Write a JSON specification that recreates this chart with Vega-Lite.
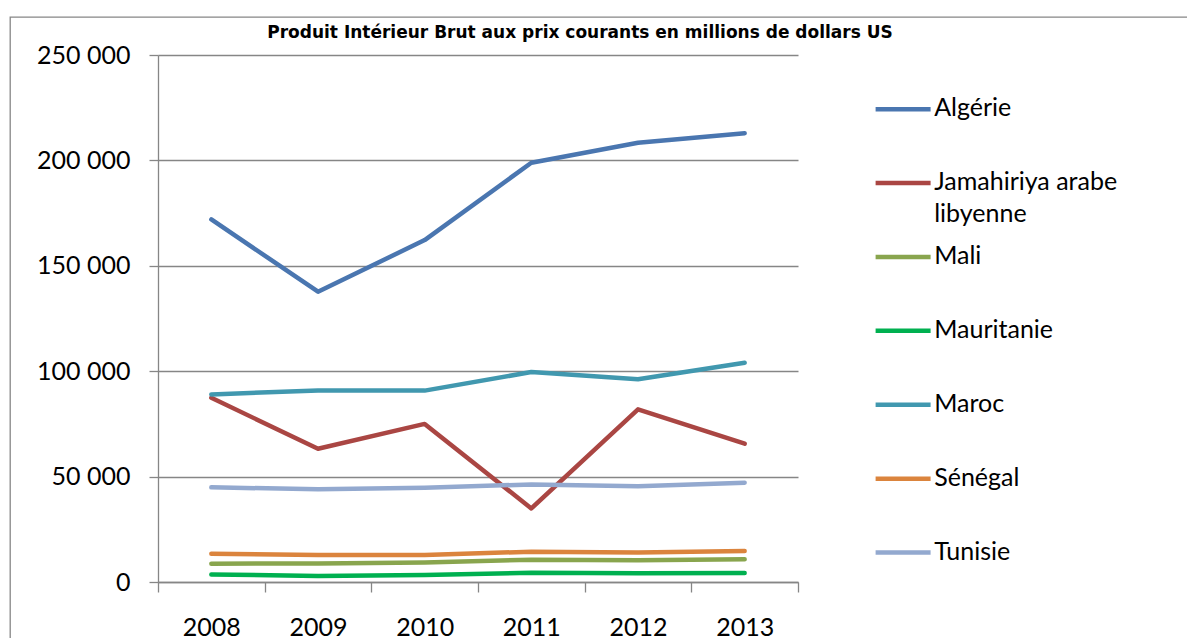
{
  "$schema": "https://vega.github.io/schema/vega-lite/v6.json",
  "width": 1200,
  "height": 640,
  "autosize": {"type": "none"},
  "padding": {"left": 10, "top": 17, "right": 0, "bottom": 0},
  "background": "white",
  "title": {
    "text": "Produit Intérieur Brut aux prix courants en millions de dollars US",
    "font": "DejaVu Sans",
    "fontSize": 17,
    "fontWeight": "bold",
    "color": "#000000",
    "frame": "group",
    "anchor": "middle",
    "dx": -30,
    "offset": -25
  },
  "data": {
    "values": [
      {"pays": "Algérie", "annee": "2008", "pib": 172000},
      {"pays": "Algérie", "annee": "2009", "pib": 137700},
      {"pays": "Algérie", "annee": "2010", "pib": 162200},
      {"pays": "Algérie", "annee": "2011", "pib": 198900},
      {"pays": "Algérie", "annee": "2012", "pib": 208400},
      {"pays": "Algérie", "annee": "2013", "pib": 212900},
      {"pays": "Jamahiriya arabe libyenne", "annee": "2008", "pib": 87400},
      {"pays": "Jamahiriya arabe libyenne", "annee": "2009", "pib": 63200},
      {"pays": "Jamahiriya arabe libyenne", "annee": "2010", "pib": 75000},
      {"pays": "Jamahiriya arabe libyenne", "annee": "2011", "pib": 34900},
      {"pays": "Jamahiriya arabe libyenne", "annee": "2012", "pib": 81900},
      {"pays": "Jamahiriya arabe libyenne", "annee": "2013", "pib": 65600},
      {"pays": "Mali", "annee": "2008", "pib": 8700},
      {"pays": "Mali", "annee": "2009", "pib": 8800},
      {"pays": "Mali", "annee": "2010", "pib": 9200},
      {"pays": "Mali", "annee": "2011", "pib": 10600},
      {"pays": "Mali", "annee": "2012", "pib": 10300},
      {"pays": "Mali", "annee": "2013", "pib": 10800},
      {"pays": "Mauritanie", "annee": "2008", "pib": 3600},
      {"pays": "Mauritanie", "annee": "2009", "pib": 2900},
      {"pays": "Mauritanie", "annee": "2010", "pib": 3300},
      {"pays": "Mauritanie", "annee": "2011", "pib": 4400},
      {"pays": "Mauritanie", "annee": "2012", "pib": 4100},
      {"pays": "Mauritanie", "annee": "2013", "pib": 4250},
      {"pays": "Maroc", "annee": "2008", "pib": 89000},
      {"pays": "Maroc", "annee": "2009", "pib": 90800},
      {"pays": "Maroc", "annee": "2010", "pib": 90800},
      {"pays": "Maroc", "annee": "2011", "pib": 99600},
      {"pays": "Maroc", "annee": "2012", "pib": 96200},
      {"pays": "Maroc", "annee": "2013", "pib": 104000},
      {"pays": "Sénégal", "annee": "2008", "pib": 13400},
      {"pays": "Sénégal", "annee": "2009", "pib": 12800},
      {"pays": "Sénégal", "annee": "2010", "pib": 12800},
      {"pays": "Sénégal", "annee": "2011", "pib": 14400},
      {"pays": "Sénégal", "annee": "2012", "pib": 14000},
      {"pays": "Sénégal", "annee": "2013", "pib": 14700},
      {"pays": "Tunisie", "annee": "2008", "pib": 44900},
      {"pays": "Tunisie", "annee": "2009", "pib": 44000},
      {"pays": "Tunisie", "annee": "2010", "pib": 44700},
      {"pays": "Tunisie", "annee": "2011", "pib": 46300},
      {"pays": "Tunisie", "annee": "2012", "pib": 45400},
      {"pays": "Tunisie", "annee": "2013", "pib": 47100}
    ]
  },
  "mark": {"type": "line", "strokeWidth": 4.5, "strokeCap": "round", "strokeJoin": "round"},
  "encoding": {
    "x": {
      "field": "annee",
      "type": "ordinal",
      "scale": {"type": "band", "paddingInner": 0, "paddingOuter": 0, "range": [148, 788]},
      "axis": {
        "title": null,
        "labelAngle": 0,
        "tickBand": "extent",
        "grid": false,
        "offset": -75,
        "domainColor": "#868686",
        "domainWidth": 1.3,
        "tickColor": "#868686",
        "tickWidth": 1.3,
        "tickSize": 10,
        "labelPadding": 23,
        "labelFont": "Lato",
        "labelFontSize": 25,
        "labelColor": "#000000"
      }
    },
    "y": {
      "field": "pib",
      "type": "quantitative",
      "scale": {"domain": [0, 250000], "nice": false, "range": [565, 38]},
      "axis": {
        "title": null,
        "values": [0, 50000, 100000, 150000, 200000, 250000],
        "labelExpr": "replace(format(datum.value, ','), ',', ' ')",
        "grid": true,
        "offset": -148,
        "gridColor": "#868686",
        "gridWidth": 1.3,
        "domainColor": "#868686",
        "domainWidth": 1.3,
        "tickColor": "#868686",
        "tickWidth": 1.3,
        "tickSize": 9,
        "labelPadding": 19,
        "labelFont": "Lato",
        "labelFontSize": 25,
        "labelColor": "#000000"
      }
    },
    "color": {
      "field": "pays",
      "type": "nominal",
      "scale": {
        "domain": ["Algérie", "Jamahiriya arabe libyenne", "Mali", "Mauritanie", "Maroc", "Sénégal", "Tunisie"],
        "range": ["#4A76B0", "#AA4643", "#89A54E", "#00B050", "#4198AF", "#DB843D", "#93A9CF"]
      },
      "legend": {
        "title": null,
        "orient": "none",
        "legendX": 880.6,
        "legendY": 66.6,
        "padding": 0,
        "symbolType": "M-4,1.9H4",
        "symbolSize": 189,
        "symbolStrokeWidth": 4.5,
        "labelFont": "Lato",
        "labelFontSize": 25,
        "labelColor": "#000000",
        "labelBaseline": "top",
        "labelOffset": 18.6,
        "labelLimit": 400,
        "rowPadding": 3.9,
        "gridAlign": "all",
        "labelExpr": "datum.label == 'Jamahiriya arabe libyenne' ? ['Jamahiriya arabe', 'libyenne'] : datum.label"
      }
    }
  },
  "config": {
    "view": {"stroke": "#868686", "strokeWidth": 1.3},
    "style": {"guide-label": {"lineHeight": 32}}
  }
}
